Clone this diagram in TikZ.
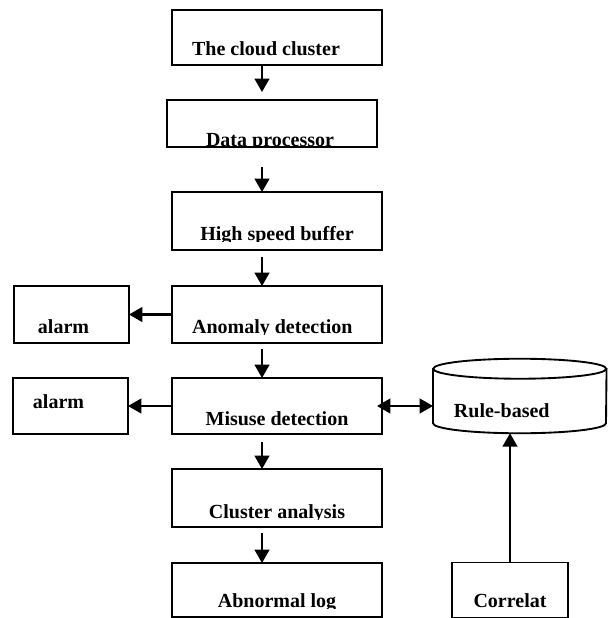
\documentclass[tikz,border=0pt]{standalone}
\usepackage{fontspec}
\setmainfont{Liberation Serif}
\usetikzlibrary{positioning, arrows.meta}

% box name, x offset, raise of the baseline, text (cut just under the baseline)
\newcommand{\boxtext}[4]{%
  \begin{scope}
    \clip (#1.north west) rectangle ([yshift=#3-1.1pt]#1.south east);
    \node[lbl, anchor=base] at ([xshift=#2, yshift=#3]#1.south) {#4};
  \end{scope}}

\begin{document}
\begin{tikzpicture}[x=0.75pt, y=-0.75pt,
    box/.style={draw, line width=1.4pt, minimum width=157.5pt, inner sep=0pt, outer sep=0pt},
    small/.style={box, minimum width=86.25pt},
    lbl/.style={font=\fontsize{15}{18}\selectfont\bfseries, inner sep=0pt},
    arr/.style={-{Triangle[width=11pt,length=10pt]}, line width=1.6pt},
    darr/.style={{Triangle[width=11pt,length=10pt]}-{Triangle[width=11pt,length=10pt]}, line width=1.6pt}]

  \useasboundingbox (0,0) rectangle (608,618);
  \clip (0,0) rectangle (608,618);

  % main column
  \node[box, minimum height=41.25pt] (cloud) at (277,37.5) {};
  \node[box, minimum height=35.25pt, below=26.25pt of cloud, xshift=-3.75pt] (data) {};
  \node[box, minimum height=43.5pt, below=33.75pt of data, xshift=3.75pt] (buffer) {};
  \node[box, minimum height=42.75pt, below=27pt of buffer] (anomaly) {};
  \node[box, minimum height=42pt, below=26.25pt of anomaly] (misuse) {};
  \node[box, minimum height=43.5pt, below=26.25pt of misuse] (cluster) {};
  \node[box, minimum height=40.5pt, below=27pt of cluster] (abnormal) {};

  % side boxes
  \node[small, minimum height=42.75pt, left=32.25pt of anomaly] (alarmA) {};
  \node[small, minimum height=42pt, left=33pt of misuse] (alarmB) {};
  \node[minimum width=129.75pt, minimum height=55.5pt, inner sep=0pt,
        right=38.25pt of misuse, yshift=7.5pt] (rule) {};
  \node[small, minimum width=87pt, minimum height=41.25pt, right=52.5pt of abnormal] (correl) {};

  % rule base drawn as a drum
  \draw[line width=1.4pt] ([yshift=-7.5pt]rule.north) ellipse [x radius=64.875pt, y radius=7.5pt];
  \draw[line width=1.4pt] ([yshift=-7.5pt]rule.north west) -- ([yshift=7.5pt]rule.south west)
    arc[start angle=180, end angle=360, x radius=64.875pt, y radius=7.5pt]
    -- ([yshift=-7.5pt]rule.north east);

  \boxtext{cloud}{-8.25pt}{7.5pt}{The cloud cluster}
  \boxtext{data}{-1.5pt}{0.75pt}{Data processor}
  \boxtext{buffer}{0pt}{7.5pt}{High speed buffer}
  \boxtext{anomaly}{-3.5pt}{7.5pt}{Anomaly detection}
  \boxtext{misuse}{0pt}{6.75pt}{Misuse detection}
  \boxtext{cluster}{0pt}{6.75pt}{Cluster analysis}
  \boxtext{abnormal}{0pt}{7.5pt}{Abnormal log}
  \boxtext{alarmA}{-6pt}{7.5pt}{alarm}
  \boxtext{alarmB}{-9pt}{19.5pt}{alarm}
  \boxtext{rule}{-13.5pt}{11.5pt}{Rule-based}
  \boxtext{correl}{0pt}{7.5pt}{Correlat}

  \draw[arr, shorten >=6pt] ([xshift=-11.25pt]cloud.south) -- ([xshift=-7.5pt]data.north);
  \draw[arr, shorten <=15pt] ([xshift=-7.5pt]data.south) -- ([xshift=-11.25pt]buffer.north);
  \draw[arr, shorten <=5pt] ([xshift=-11.25pt]buffer.south) -- ([xshift=-11.25pt]anomaly.north);
  \draw[arr, shorten <=4.5pt] ([xshift=-11.25pt]anomaly.south) -- ([xshift=-11.25pt]misuse.north);
  \draw[arr, shorten <=6pt] ([xshift=-11.25pt]misuse.south) -- ([xshift=-11.25pt]cluster.north);
  \draw[arr, shorten <=4.5pt] ([xshift=-11.25pt]cluster.south) -- ([xshift=-11.25pt]abnormal.north);

  \draw[arr] (anomaly.west) -- (alarmA.east);
  \draw[arr] (misuse.west) -- (alarmB.east);
  \draw[darr, shorten <=-3.75pt] (misuse.east) -- (misuse.east -| rule.west);
  \draw[arr] (correl.north) -- (correl.north |- rule.south);
\end{tikzpicture}
\end{document}
